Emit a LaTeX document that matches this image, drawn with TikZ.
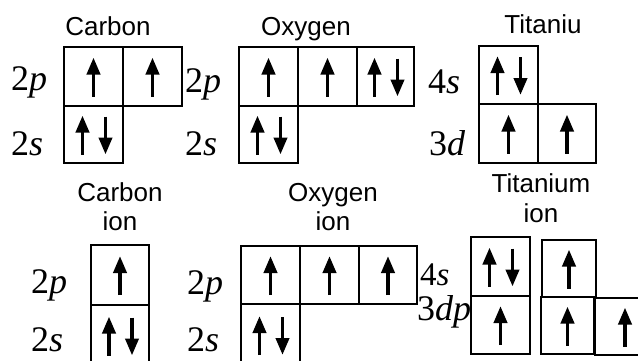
\documentclass[tikz,border=0pt]{standalone}
\usepackage{fontspec}
\setmainfont{Liberation Serif}
\newfontfamily\arialf{Liberation Sans}
\usetikzlibrary{arrows.meta,calc}
\tikzset{
  orb/.style={draw, line width=1.6pt, rectangle, inner sep=0pt, outer sep=0pt},
  spin/.style={line width=3.8pt, -{Triangle[width=13pt,length=17pt]}},
  lbl/.style={inner sep=0pt, anchor=base west, font=\fontsize{36}{36}\selectfont},
  ttl/.style={inner sep=0pt, anchor=base, font=\arialf\fontsize{26}{26}\selectfont}
}
\newcommand\orb[5]{\node[orb, minimum width={(#4-#2)*1pt}, minimum height={(#5-#3)*1pt}] (#1) at ({(#2+#4)/2},{(#3+#5)/2}) {};}
\newcommand\spinup[2][0]{\draw[spin] ($(#2.center)+(#1,20)$) -- ($(#2.center)+(#1,-19)$);}
\newcommand\spindown[2][0]{\draw[spin] ($(#2.center)+(#1,-18)$) -- ($(#2.center)+(#1,20)$);}
\newcommand\spinpair[1]{\spinup[-11]{#1}\spindown[12]{#1}}
\begin{document}
\begin{tikzpicture}[x=1pt,y=-1pt]
\useasboundingbox (0,0) rectangle (638,360);
% ---- titles
\node[ttl] (tC) at (108,35) {Carbon};
\node[ttl] (tO) at (306,35) {Oxygen};
\node[ttl] (tT) at (543,33) {Titaniu};
\node[ttl] (tCi1) at (120,201) {Carbon};
\node[ttl] (tCi2) at (120,230) {ion};
\node[ttl] (tOi1) at (333,201) {Oxygen};
\node[ttl] (tOi2) at (333,230) {ion};
\node[ttl] (tTi1) at (541,192) {Titanium};
\node[ttl] (tTi2) at (541,222) {ion};
% ---- labels
\node[lbl] (l1) at (11,90) {2\textit{p}};
\node[lbl] (l2) at (11,155) {2\textit{s}};
\node[lbl] (l3) at (185,92) {2\textit{p}};
\node[lbl] (l4) at (185,155) {2\textit{s}};
\node[lbl] (l5) at (428,93) {4\textit{s}};
\node[lbl] (l6) at (429,155) {3\textit{d}};
\node[lbl] (l7) at (31,293) {2\textit{p}};
\node[lbl] (l8) at (31,351) {2\textit{s}};
\node[lbl] (l9) at (187,294) {2\textit{p}};
\node[lbl] (l10) at (187,351) {2\textit{s}};
\node[lbl, font=\fontsize{33}{33}\selectfont] (l11) at (420,285) {4\textit{s}};
\node[lbl] (l12) at (417,320) {3\textit{dp}};
% ---- carbon
\orb{C2pa}{64}{47}{123}{106}
\orb{C2pb}{123}{47}{182}{106}
\orb{C2s}{64}{106}{123}{163}
% ---- oxygen
\orb{O2pa}{239}{47}{298}{106}
\orb{O2pb}{298}{47}{357}{106}
\orb{O2pc}{357}{47}{414}{106}
\orb{O2s}{239}{106}{298}{163}
% ---- titanium
\orb{T4s}{479}{46}{538}{104}
\orb{T3da}{479}{104}{538}{163}
\orb{T3db}{538}{104}{596}{163}
% ---- carbon ion
\orb{CI2p}{91}{245}{149}{305}
\orb{CI2s}{91}{305}{149}{366}
% ---- oxygen ion
\orb{OI2pa}{241}{246}{300}{304}
\orb{OI2pb}{300}{246}{359}{304}
\orb{OI2pc}{359}{246}{417}{304}
\orb{OI2s}{241}{304}{300}{366}
% ---- titanium ion
\orb{TI4sa}{471}{237}{530}{296}
\orb{TI3da}{471}{296}{530}{354}
\orb{TI4sb}{542}{240}{596}{297}
\orb{TI3db}{541}{297}{594}{354}
\orb{TI3dc}{595}{298}{655}{355}
% ---- spins
\spinup{C2pa}\spinup{C2pb}\spinpair{C2s}
\spinup{O2pa}\spinup{O2pb}\spinpair{O2pc}\spinpair{O2s}
\spinpair{T4s}\spinup{T3da}\spinup{T3db}
\spinup{CI2p}
\draw[spin] ($(CI2s.center)+(-11,20)$) -- ($(CI2s.center)+(-11,-19)$);
\draw[spin] ($(CI2s.center)+(12,-18)$) -- ($(CI2s.center)+(12,20)$);
\spinup{OI2pa}\spinup{OI2pb}\spinup{OI2pc}
\draw[spin] ($(OI2s.center)+(-11,20)$) -- ($(OI2s.center)+(-11,-19)$);
\draw[spin] ($(OI2s.center)+(12,-18)$) -- ($(OI2s.center)+(12,20)$);
\spinpair{TI4sa}\spinup{TI3da}\spinup{TI4sb}\spinup{TI3db}\spinup{TI3dc}
\end{tikzpicture}
\end{document}
